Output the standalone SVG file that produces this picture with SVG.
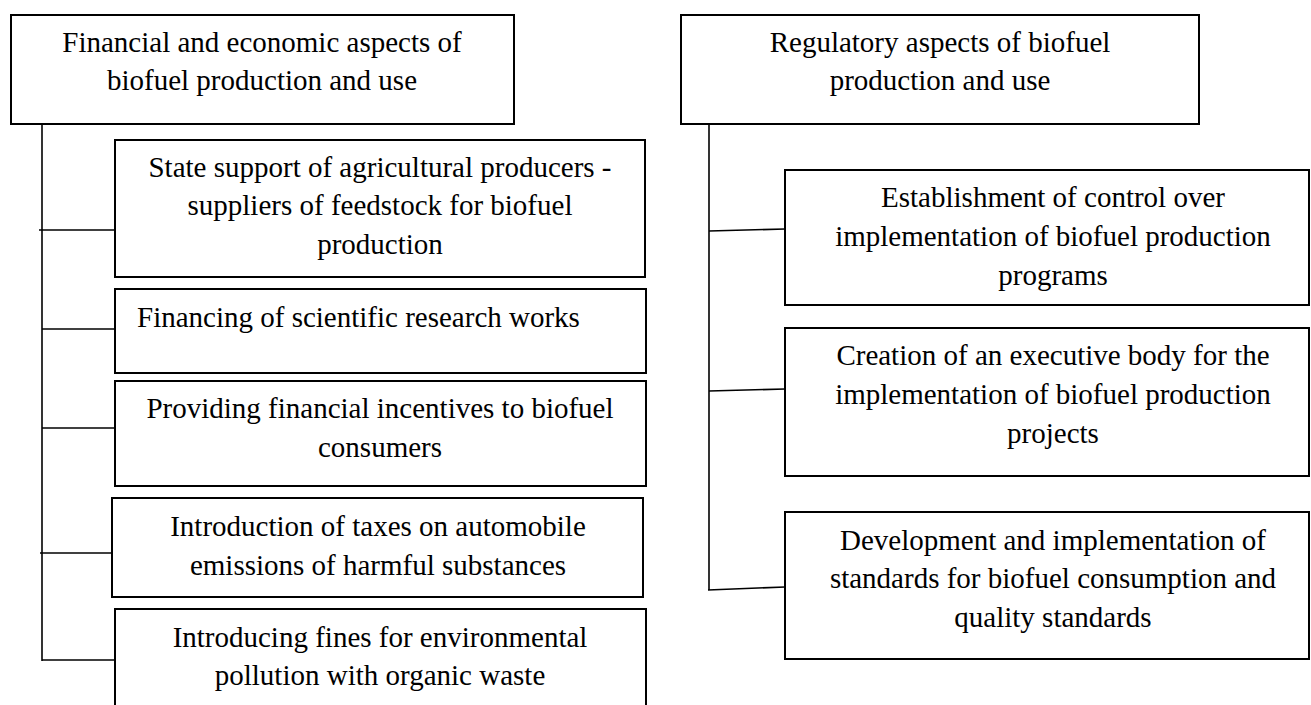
<svg xmlns="http://www.w3.org/2000/svg" width="1311" height="705" viewBox="0 0 1311 705">
<style>
.box{fill:#fff;stroke:#000;stroke-width:2}
.t{font-family:"Liberation Serif","Times New Roman",serif;font-size:29px;fill:#000;text-anchor:middle}
.ts{font-family:"Liberation Serif","Times New Roman",serif;font-size:29px;fill:#000;text-anchor:start}
.c{fill:none;stroke:#000;stroke-width:1.6}
</style>
<rect width="1311" height="705" fill="#fff"/>
<g id="connectors">
<line class="c" x1="42" y1="124" x2="42" y2="661"/>
<line class="c" x1="39" y1="230" x2="115" y2="230"/>
<line class="c" x1="42" y1="329" x2="115" y2="329"/>
<line class="c" x1="42" y1="428" x2="115" y2="428"/>
<line class="c" x1="40" y1="553" x2="112" y2="553"/>
<line class="c" x1="42" y1="660" x2="115" y2="660"/>
<line class="c" x1="709" y1="124" x2="709" y2="590"/>
<line class="c" x1="709" y1="231" x2="785" y2="229"/>
<line class="c" x1="709" y1="391" x2="785" y2="389"/>
<line class="c" x1="708" y1="590" x2="785" y2="587"/>
</g>
<g id="fin-header" font-family="Liberation Serif, serif">
<rect class="box" x="11" y="15" width="503" height="109"/>
<text class="t" x="262" y="52">Financial and economic aspects of</text>
<text class="t" x="262" y="90">biofuel production and use</text>
</g>
<g id="state-support" font-family="Liberation Serif, serif">
<rect class="box" x="115" y="140" width="530" height="137"/>
<text class="t" x="380" y="177">State support of agricultural producers -</text>
<text class="t" x="380" y="215">suppliers of feedstock for biofuel</text>
<text class="t" x="380" y="254">production</text>
</g>
<g id="financing-research" font-family="Liberation Serif, serif">
<rect class="box" x="115" y="289" width="531" height="84"/>
<text class="ts" x="137" y="327">Financing of scientific research works</text>
</g>
<g id="incentives" font-family="Liberation Serif, serif">
<rect class="box" x="115" y="381" width="531" height="105"/>
<text class="t" x="380" y="418">Providing financial incentives to biofuel</text>
<text class="t" x="380" y="457">consumers</text>
</g>
<g id="taxes" font-family="Liberation Serif, serif">
<rect class="box" x="112" y="498" width="531" height="99"/>
<text class="t" x="378" y="536">Introduction of taxes on automobile</text>
<text class="t" x="378" y="575">emissions of harmful substances</text>
</g>
<g id="fines" font-family="Liberation Serif, serif">
<rect class="box" x="115" y="609" width="531" height="120"/>
<text class="t" x="380" y="647">Introducing fines for environmental</text>
<text class="t" x="380" y="685">pollution with organic waste</text>
</g>
<g id="reg-header" font-family="Liberation Serif, serif">
<rect class="box" x="681" y="15" width="518" height="109"/>
<text class="t" x="940" y="52">Regulatory aspects of biofuel</text>
<text class="t" x="940" y="90">production and use</text>
</g>
<g id="control" font-family="Liberation Serif, serif">
<rect class="box" x="785" y="170" width="524" height="135"/>
<text class="t" x="1053" y="207">Establishment of control over</text>
<text class="t" x="1053" y="246">implementation of biofuel production</text>
<text class="t" x="1053" y="285">programs</text>
</g>
<g id="executive-body" font-family="Liberation Serif, serif">
<rect class="box" x="785" y="328" width="524" height="148"/>
<text class="t" x="1053" y="365">Creation of an executive body for the</text>
<text class="t" x="1053" y="404">implementation of biofuel production</text>
<text class="t" x="1053" y="443">projects</text>
</g>
<g id="standards" font-family="Liberation Serif, serif">
<rect class="box" x="785" y="512" width="524" height="147"/>
<text class="t" x="1053" y="550">Development and implementation of</text>
<text class="t" x="1053" y="588">standards for biofuel consumption and</text>
<text class="t" x="1053" y="627">quality standards</text>
</g>
</svg>
